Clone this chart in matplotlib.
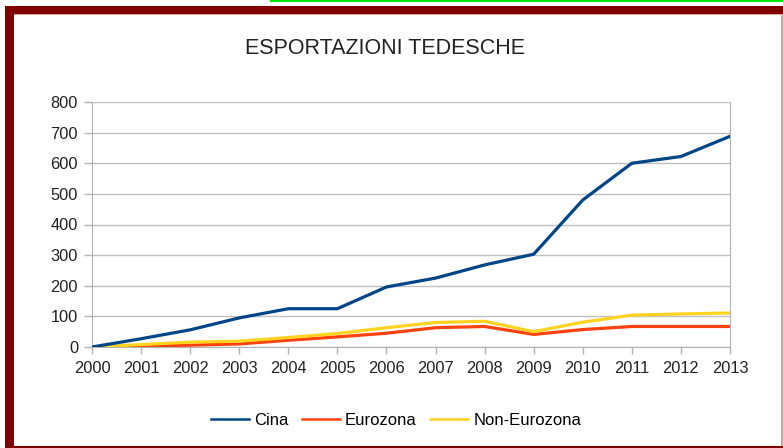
import matplotlib
matplotlib.use("Agg")
import matplotlib.pyplot as plt
from matplotlib.patches import Rectangle

years = [2000, 2001, 2002, 2003, 2004, 2005, 2006, 2007, 2008, 2009, 2010, 2011, 2012, 2013]
cina = [0, 27, 56, 95, 125, 125, 196, 225, 268, 303, 480, 600, 622, 688]
eurozona = [0, 2, 6, 10, 22, 33, 45, 63, 67, 41, 57, 67, 67, 67]
non_eurozona = [0, 8, 16, 19, 31, 44, 63, 80, 84, 50, 81, 104, 108, 111]
yticks = [0, 100, 200, 300, 400, 500, 600, 700, 800]

plt.rcParams['font.family'] = ['Liberation Sans', 'DejaVu Sans']

W, H = 783, 448
fig = plt.figure(figsize=(W / 100, H / 100), dpi=100)
fig.patch.set_facecolor('white')

def px_rect(x, y, w, h, color):
    fig.patches.append(Rectangle((x / W, 1 - (y + h) / H), w / W, h / H,
                                 transform=fig.transFigure, facecolor=color,
                                 edgecolor='none', zorder=0))

# frame decorations
px_rect(270, 0, 513, 2, '#00e600')
px_rect(5, 6, 778, 8, '#800000')
px_rect(5, 6, 9, 442, '#800000')
px_rect(14, 14, 769, 1, '#d9a0a0')
px_rect(781, 14, 2, 434, '#d9a0a0')
px_rect(14, 446, 769, 2, '#800000')

ax = fig.add_axes([92 / W, 1 - 347 / H, (730 - 92) / W, (347 - 102) / H])
ax.plot(years, cina, color='#004586', lw=2.3, label='Cina', zorder=5)
ax.plot(years, eurozona, color='#ff420e', lw=2.3, label='Eurozona', zorder=3)
ax.plot(years, non_eurozona, color='#ffd320', lw=2.3, label='Non-Eurozona', zorder=4)

ax.set_xlim(2000, 2013)
ax.set_ylim(0, 800)
ax.set_xticks(years)
ax.set_yticks(yticks)
ax.tick_params(axis='both', colors='#b3b3b3', labelcolor='#222222', labelsize=11.8)
ax.tick_params(axis='y', length=6, width=1, pad=4)
ax.tick_params(axis='x', length=5, width=1, pad=5)
ax.grid(axis='y', color='#c0c0c0', lw=1)
ax.set_axisbelow(True)
for s in ['left', 'right', 'bottom']:
    ax.spines[s].set_color('#b3b3b3')
ax.spines['top'].set_visible(False)

fig.text(385 / W, 1 - 48 / H, 'ESPORTAZIONI TEDESCHE', ha='center', va='center',
         fontsize=15.5, color='#222222')

leg = fig.legend(loc='center', bbox_to_anchor=(396 / W, 1 - 420 / H), ncol=3, frameon=False,
                 fontsize=12, handlelength=2.3, columnspacing=0.8, handletextpad=0.3)
for h in leg.get_lines():
    h.set_linewidth(1.8)

fig.savefig('out.png', dpi=100, facecolor='white')
